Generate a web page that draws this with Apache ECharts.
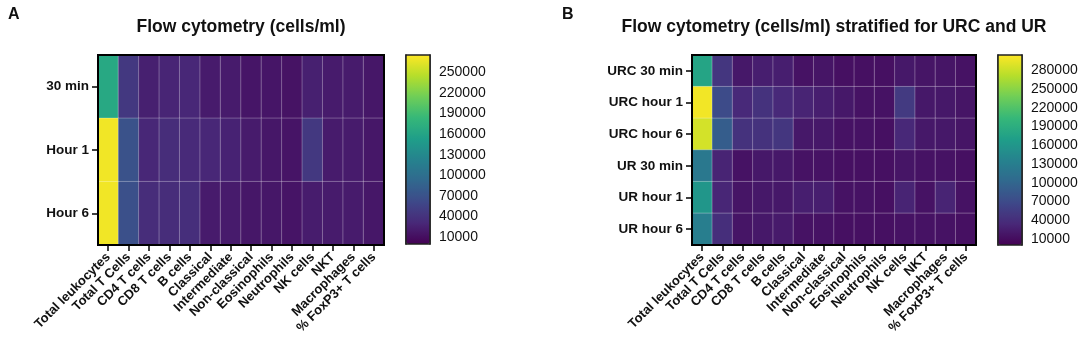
<!DOCTYPE html>
<html>
<head>
<meta charset="utf-8">
<script src="https://cdn.jsdelivr.net/npm/echarts@6/dist/echarts.min.js"></script>
<style>
  html, body { margin: 0; padding: 0; background: #fff; }
  #chart { width: 1084px; height: 349px; }
</style>
</head>
<body>
<div id="chart"></div>
<script>
  // cell populations on the x axis (same for both panels)
  const cellTypes = ['Total leukocytes', 'Total T Cells', 'CD4 T cells', 'CD8 T cells', 'B cells',
    'Classical', 'Intermediate', 'Non-classical', 'Eosinophils', 'Neutrophils',
    'NK cells', 'NKT', 'Macrophages', '% FoxP3+ T cells']

  // panel A
  const rowsA = ['30 min', 'Hour 1', 'Hour 6']
  const valuesA = [
    [165000, 45000, 24000, 28000, 30000, 20000, 20000, 16000, 16000, 14000, 24000, 20000, 20000, 17000],
    [270000, 70000, 30000, 35000, 32000, 30000, 26000, 20000, 17000, 15000, 45000, 20000, 20000, 17000],
    [270000, 68000, 35000, 35000, 36000, 20000, 20000, 17000, 17000, 15000, 21000, 20000, 20000, 17000],
  ]
  const ticksA = [10000, 40000, 70000, 100000, 130000, 160000, 190000, 220000, 250000]

  // panel B
  const rowsB = ['URC 30 min', 'URC hour 1', 'URC hour 6', 'UR 30 min', 'UR hour 1', 'UR hour 6']
  const valuesB = [
    [178000, 48000, 20000, 25000, 25000, 15000, 17000, 13000, 13000, 13000, 20000, 17000, 17000, 15000],
    [300000, 70000, 35000, 44000, 35000, 30000, 25000, 20000, 15000, 15000, 52000, 20000, 20000, 17000],
    [285000, 90000, 44000, 44000, 48000, 20000, 20000, 15000, 15000, 13000, 34000, 20000, 20000, 17000],
    [122000, 30000, 15000, 20000, 20000, 15000, 15000, 13000, 13000, 13000, 17000, 15000, 15000, 13000],
    [160000, 32000, 17000, 20000, 20000, 25000, 25000, 15000, 15000, 13000, 30000, 15000, 30000, 15000],
    [130000, 40000, 17000, 20000, 22000, 15000, 15000, 13000, 13000, 13000, 15000, 15000, 15000, 13000],
  ]
  const ticksB = [10000, 40000, 70000, 100000, 130000, 160000, 190000, 220000, 250000, 280000]

  const viridis = ['#440154', '#482878', '#3e4989', '#31688e', '#26828e', '#1f9e89', '#35b779', '#6ece58', '#b5de2b', '#fde725']
  const font = "'Liberation Sans', Arial, sans-serif"

  function toCells(values) {
    const out = []
    values.forEach((row, y) => row.forEach((v, x) => out.push([x, y, v])))
    return out
  }

  const chart = echarts.init(document.getElementById('chart'))

  function heatX(gridIndex) {
    return {
      type: 'category', gridIndex, data: cellTypes,
      axisLine: { show: true, lineStyle: { color: '#000', width: 2 } },
      axisTick: { show: true, alignWithLabel: true, length: 6, lineStyle: { color: '#000', width: 1.5 } },
      axisLabel: { rotate: 45, margin: 10, color: '#111', fontFamily: font, fontWeight: 'bold', fontSize: 13, interval: 0 },
      splitLine: { show: false },
    }
  }
  function heatY(gridIndex, rows) {
    return {
      type: 'category', gridIndex, data: rows, inverse: true,
      axisLine: { show: true, lineStyle: { color: '#000', width: 2 } },
      axisTick: { show: true, alignWithLabel: true, length: 6, lineStyle: { color: '#000', width: 1.5 } },
      axisLabel: { margin: 9, color: '#111', fontFamily: font, fontWeight: 'bold', fontSize: 13.5 },
    }
  }
  function barY(gridIndex, max, ticks, right) {
    return {
      type: 'value', gridIndex, min: 0, max, position: right ? 'right' : 'left',
      axisLine: { show: true, lineStyle: { color: '#222', width: 1.5 } },
      splitLine: { show: false },
      axisTick: { show: true, inside: true, length: 3, customValues: ticks, lineStyle: { color: '#000', width: 1.5 } },
      axisLabel: { show: right, customValues: ticks, margin: 9, color: '#111', fontFamily: font, fontSize: 14,
        formatter: (v) => String(v) },
    }
  }

  chart.setOption({
    animation: false,
    grid: [
      { left: 98, top: 55, width: 286, height: 190, show: true, z: 10, borderColor: '#000', borderWidth: 2, backgroundColor: 'transparent' },
      { left: 692, top: 55, width: 284, height: 190, show: true, z: 10, borderColor: '#000', borderWidth: 2, backgroundColor: 'transparent' },
      { left: 406, top: 55, width: 24, height: 189, show: true, z: 10, borderColor: '#222', borderWidth: 1.5, backgroundColor: 'transparent' },
      { left: 998, top: 55, width: 24, height: 190, show: true, z: 10, borderColor: '#222', borderWidth: 1.5, backgroundColor: 'transparent' },
    ],
    xAxis: [
      heatX(0),
      heatX(1),
      { type: 'value', gridIndex: 2, show: false },
      { type: 'value', gridIndex: 3, show: false },
    ],
    yAxis: [
      heatY(0, rowsA),
      heatY(1, rowsB),
      barY(2, 275000, ticksA, false),
      barY(2, 275000, ticksA, true),
      barY(3, 305000, ticksB, false),
      barY(3, 305000, ticksB, true),
    ],
    visualMap: [
      { type: 'continuous', seriesIndex: 0, min: 0, max: 275000, calculable: false, left: 406, top: 55,
        itemWidth: 24, itemHeight: 189, padding: 0, inRange: { color: viridis } },
      { type: 'continuous', seriesIndex: 1, min: 0, max: 305000, calculable: false, left: 998, top: 55,
        itemWidth: 24, itemHeight: 190, padding: 0, inRange: { color: viridis } },
    ],
    series: [
      { type: 'heatmap', xAxisIndex: 0, yAxisIndex: 0, data: toCells(valuesA),
        itemStyle: { borderColor: 'rgba(255,255,255,0.28)', borderWidth: 1 } },
      { type: 'heatmap', xAxisIndex: 1, yAxisIndex: 1, data: toCells(valuesB),
        itemStyle: { borderColor: 'rgba(255,255,255,0.28)', borderWidth: 1 } },
    ],
    graphic: [
      { type: 'text', left: 8, top: 7, style: { text: 'A', font: 'bold 16px ' + font, fill: '#111' } },
      { type: 'text', left: 562, top: 7, style: { text: 'B', font: 'bold 16px ' + font, fill: '#111' } },
      { type: 'text', x: 241, y: 27, style: { text: 'Flow cytometry (cells/ml)', font: 'bold 17.5px ' + font, fill: '#111', align: 'center', verticalAlign: 'middle' } },
      { type: 'text', x: 834, y: 27, style: { text: 'Flow cytometry (cells/ml) stratified for URC and UR', font: 'bold 17.5px ' + font, fill: '#111', align: 'center', verticalAlign: 'middle' } },
    ],
  })
</script>
</body>
</html>
